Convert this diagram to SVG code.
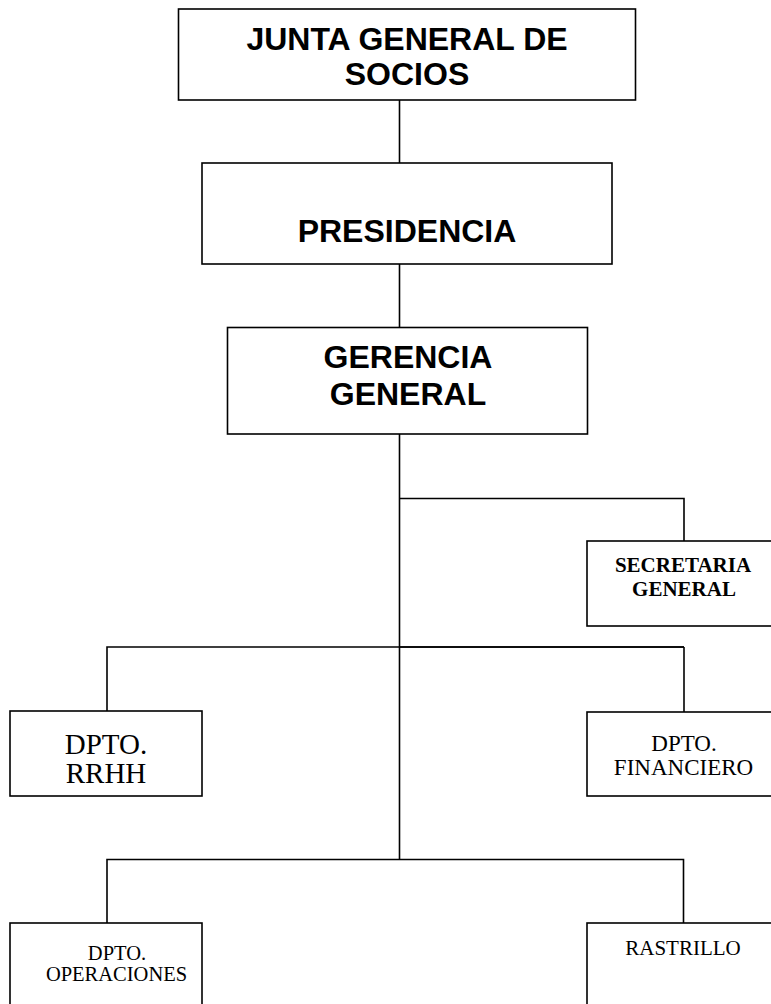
<svg xmlns="http://www.w3.org/2000/svg" width="771" height="1004" viewBox="0 0 771 1004">
<style>
.box{fill:#fff;stroke:#000;stroke-width:1.6}
.con{fill:none;stroke:#000;stroke-width:1.6}
.ab{font-family:"Liberation Sans",Arial,sans-serif;font-weight:bold;font-size:32px;text-anchor:middle;fill:#000}
.tb{font-family:"Liberation Serif","Times New Roman",serif;font-weight:bold;font-size:21px;text-anchor:middle;fill:#000}
.tr{font-family:"Liberation Serif","Times New Roman",serif;font-size:21px;text-anchor:middle;fill:#000}
</style>
<rect width="771" height="1004" fill="#fff"/>
<g id="connectors">
<line class="con" x1="399.5" y1="100" x2="399.5" y2="163"/>
<line class="con" x1="399.5" y1="264" x2="399.5" y2="327"/>
<line class="con" x1="399.5" y1="434" x2="399.5" y2="860"/>
<polyline class="con" points="399.5,498.5 684,498.5 684,541"/>
<polyline class="con" points="684,647 107,647 107,711"/>
<line class="con" x1="399.5" y1="647" x2="684" y2="647"/>
<line class="con" x1="684" y1="647" x2="684" y2="712"/>
<polyline class="con" points="107,923 107,859.5 683.5,859.5 683.5,923"/>
</g>
<g id="junta">
<rect class="box" x="178.5" y="9" width="457" height="91"/>
<text class="ab" x="407" y="50">JUNTA GENERAL DE</text>
<text class="ab" x="407" y="85">SOCIOS</text>
</g>
<g id="presidencia">
<rect class="box" x="202" y="163" width="410" height="101"/>
<text class="ab" x="407" y="241.5">PRESIDENCIA</text>
</g>
<g id="gerencia">
<rect class="box" x="227.5" y="327.5" width="360" height="106.5"/>
<text class="ab" x="408" y="367.5">GERENCIA</text>
<text class="ab" x="408" y="405">GENERAL</text>
</g>
<g id="secretaria">
<rect class="box" x="587" y="541" width="190" height="85"/>
<text class="tb" x="683" y="571.5">SECRETARIA</text>
<text class="tb" x="684" y="596">GENERAL</text>
</g>
<g id="rrhh">
<rect class="box" x="10" y="711" width="192" height="85"/>
<text class="tr" x="106" y="754" style="font-size:29px">DPTO.</text>
<text class="tr" x="106" y="783" style="font-size:29px">RRHH</text>
</g>
<g id="financiero">
<rect class="box" x="587" y="712" width="190" height="84"/>
<text class="tr" x="684" y="751" style="font-size:23px">DPTO.</text>
<text class="tr" x="683.5" y="775" style="font-size:23px">FINANCIERO</text>
</g>
<g id="operaciones">
<rect class="box" x="10" y="923" width="192" height="90"/>
<text class="tr" x="117" y="960" style="font-size:20.5px">DPTO.</text>
<text class="tr" x="116.5" y="981" style="font-size:20.5px">OPERACIONES</text>
</g>
<g id="rastrillo">
<rect class="box" x="587" y="923" width="190" height="90"/>
<text class="tr" x="683" y="955">RASTRILLO</text>
</g>
</svg>
